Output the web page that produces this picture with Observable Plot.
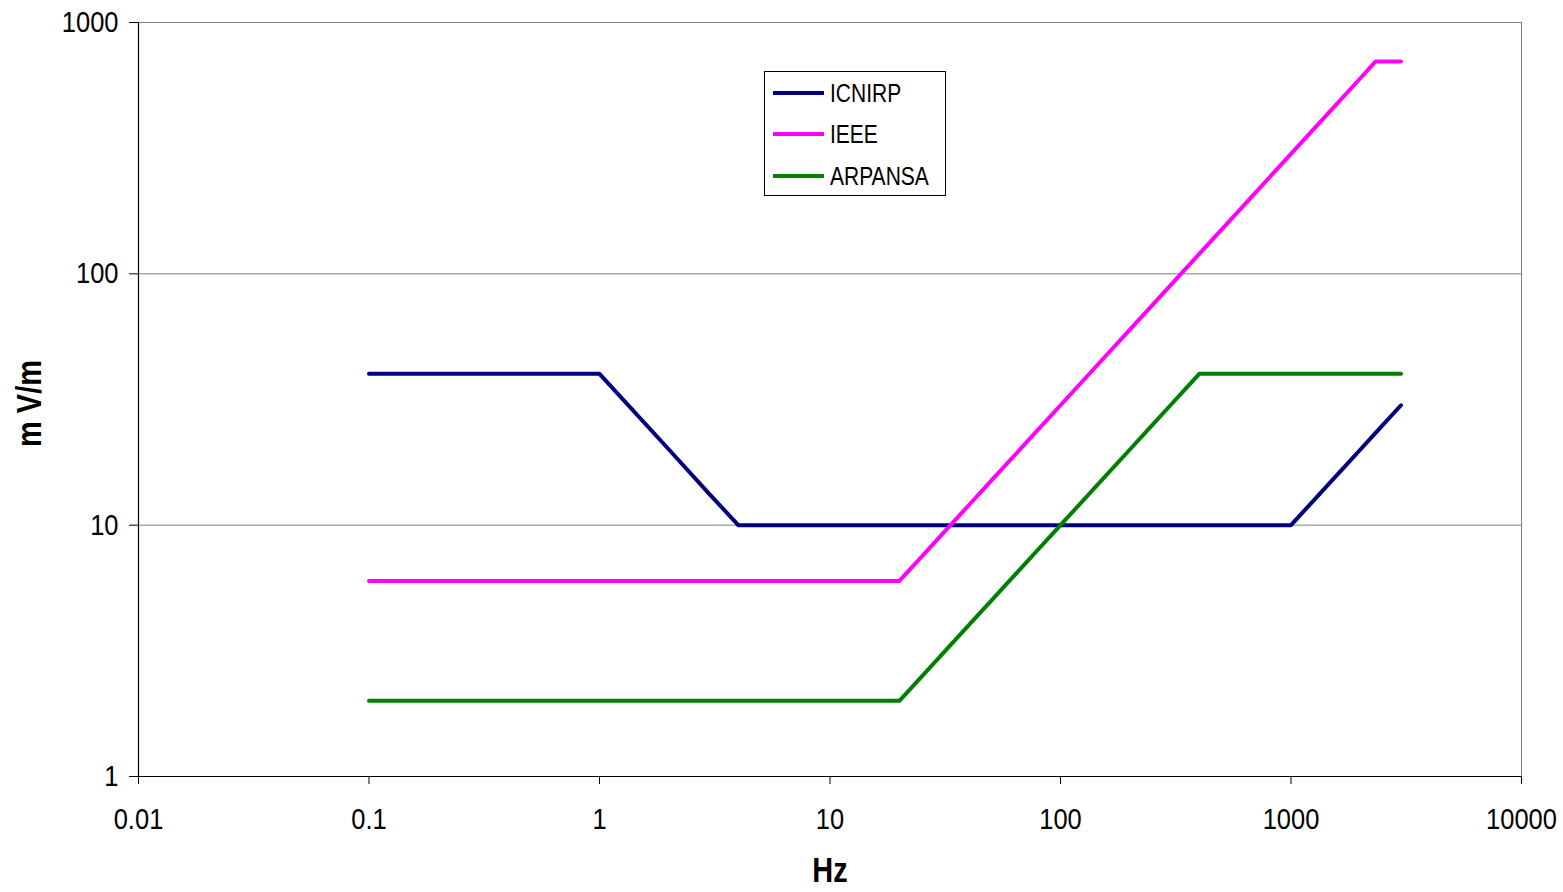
<!DOCTYPE html>
<html>
<head>
<meta charset="utf-8">
<script src="https://cdn.jsdelivr.net/npm/d3@7"></script>
<script src="https://cdn.jsdelivr.net/npm/@observablehq/plot@0.6"></script>
<style>
  html, body { margin: 0; padding: 0; background: #fff; }
  #wrap { position: relative; width: 1563px; height: 892px; font-family: "Liberation Sans", Arial, sans-serif; }
  #legend { position: absolute; left: 764px; top: 71px; width: 182px; height: 125px; border: 1px solid #000; background: #fff; box-sizing: border-box; }
  .item { position: absolute; left: 8px; height: 30px; display: flex; align-items: center; }
  .swatch { width: 51px; height: 4px; margin-right: 6px; }
  .lab { font-size: 21px; color: #000; transform: scaleY(1.22); }
</style>
</head>
<body>
<div id="wrap"></div>
<script>
// Frequencies (Hz) and limits (mV/m)
const icnirpHz  = [0.1, 1, 2, 3, 4, 10, 100, 1000, 1250, 1500, 1750, 2000, 2250, 2500, 2750, 3000];
const icnirpVal = [40, 40, 20, 13.3, 10, 10, 10, 10, 12.5, 15, 17.5, 20, 22.5, 25, 27.5, 30];

const ieeeHz  = [0.1, 1, 10, 20, 25, 30, 40, 50, 70, 100, 150, 200, 300, 400, 500, 700, 1000, 1500, 2000, 2330, 2500, 3000];
const ieeeVal = [6, 6, 6, 6, 7.5, 9, 12, 15, 21, 30, 45, 60, 90, 120, 150, 210, 300, 450, 600, 700, 700, 700];

const arpansaHz  = [0.1, 1, 10, 20, 30, 40, 50, 60, 70, 80, 90, 100, 150, 200, 250, 300, 350, 400, 1000, 3000];
const arpansaVal = [2, 2, 2, 2, 3, 4, 5, 6, 7, 8, 9, 10, 15, 20, 25, 30, 35, 40, 40, 40];

const seriesNames  = ["ICNIRP", "IEEE", "ARPANSA"];
const seriesColors = ["#000080", "#FF00FF", "#008000"];

const xTicks = [0.01, 0.1, 1, 10, 100, 1000, 10000];
const xTickLabels = ["0.01", "0.1", "1", "10", "100", "1000", "10000"];
const yTicks = [1, 10, 100, 1000];
const yTickLabels = ["1", "10", "100", "1000"];

const rows = [
  ...icnirpHz.map((f, i) => ({series: "ICNIRP", f, v: icnirpVal[i]})),
  ...ieeeHz.map((f, i) => ({series: "IEEE", f, v: ieeeVal[i]})),
  ...arpansaHz.map((f, i) => ({series: "ARPANSA", f, v: arpansaVal[i]}))
];

const chart = Plot.plot({
  width: 1563,
  height: 892,
  marginLeft: 138,
  marginRight: 42,
  marginTop: 22,
  marginBottom: 116,
  style: {fontFamily: "'Liberation Sans', Arial, sans-serif", fontSize: "25px", color: "#000", background: "#fff"},
  x: {type: "log", domain: [0.01, 10000]},
  y: {type: "log", domain: [1, 1000]},
  color: {domain: seriesNames, range: seriesColors},
  marks: [
    Plot.ruleY([10, 100, 1000], {stroke: "#808080", strokeWidth: 1}),
    Plot.ruleX([10000], {stroke: "#808080", strokeWidth: 1}),
    Plot.ruleX([0.01], {stroke: "#000", strokeWidth: 1.2}),
    Plot.ruleY([1], {stroke: "#000", strokeWidth: 1.2}),
    Plot.axisX({ticks: xTicks, tickFormat: (d) => xTickLabels[xTicks.indexOf(d)], tickSize: 8, tickPadding: 23, fontSize: 25.5, label: null, stroke: "#000", className: "stretch"}),
    Plot.axisY({ticks: yTicks, tickFormat: (d) => yTickLabels[yTicks.indexOf(d)], tickSize: 9, tickPadding: 11, fontSize: 25.5, label: null, stroke: "#000", className: "stretch"}),
    Plot.line(rows, {x: "f", y: "v", z: "series", stroke: "series", strokeWidth: 4, strokeLinejoin: "round", strokeLinecap: "round"}),
    Plot.text(["Hz"], {frameAnchor: "bottom", dy: 105, fontSize: 29, fontWeight: "bold", className: "stretch"}),
    Plot.text(["m V/m"], {frameAnchor: "left", textAnchor: "middle", dx: -108, dy: 4, rotate: -90, fontSize: 29, fontWeight: "bold", className: "stretch"})
  ]
});

// stretch text glyphs vertically a little, as in the reference rendering
chart.querySelectorAll("g[aria-label='x-axis tick label'] text, g[aria-label='y-axis tick label'] text, .stretch text").forEach((t) => {
  const tr = t.getAttribute("transform");
  if (tr) {
    t.setAttribute("transform", tr + " scale(1,1.18)");
  } else {
    const x = +t.getAttribute("x") || 0, y = +t.getAttribute("y") || 0;
    t.setAttribute("transform", `translate(${x},${y}) scale(1,1.18) translate(${-x},${-y})`);
  }
});

const wrap = document.getElementById("wrap");
wrap.appendChild(chart);

const legend = document.createElement("div");
legend.id = "legend";
const tops = [6, 47, 89];
seriesNames.forEach((name, i) => {
  const item = document.createElement("div");
  item.className = "item";
  item.style.top = tops[i] + "px";
  const sw = document.createElement("div");
  sw.className = "swatch";
  sw.style.background = seriesColors[i];
  const lab = document.createElement("span");
  lab.className = "lab";
  lab.textContent = name;
  item.appendChild(sw);
  item.appendChild(lab);
  legend.appendChild(item);
});
wrap.appendChild(legend);
</script>
</body>
</html>
